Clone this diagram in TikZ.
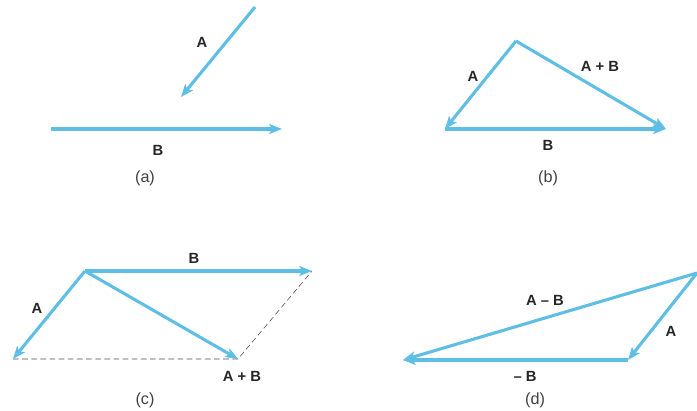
\documentclass[tikz,border=0pt]{standalone}
\usepackage{fontspec}
\setmainfont{Liberation Sans}
\usepackage{xcolor}
\usetikzlibrary{arrows.meta}
\definecolor{vecblue}{RGB}{95,190,228}

\begin{document}
\begin{tikzpicture}[x=0.025cm, y=-0.025cm,
    vec/.style={draw=vecblue, line width=2.2pt, -{Stealth[length=9pt, width=7pt, inset=2pt]}},
    vlabel/.style={font=\bfseries\fontsize{10.5}{12}\selectfont, text=black!85},
    caption/.style={font=\fontsize{11.5}{13}\selectfont, text=black!75},
    guide/.style={dash pattern=on 4pt off 2.5pt, gray!60!black, thin}]
    \useasboundingbox (0,0) rectangle (697,410);
    % (a): A and B on their own
    \begin{scope}[shift={(0,0)}]
        \coordinate (aAtail) at (255,7);
        \coordinate (aAtip) at (181,97);
        \coordinate (aBtail) at (51,129);
        \coordinate (aBtip) at (282,129);
        \draw[vec] (aAtail) -- (aAtip);
        \draw[vec] (aBtail) -- (aBtip);
        \node[vlabel] (aAlab) at (202,42) {A};
        \node[vlabel] (aBlab) at (158,150) {B};
        \node[caption] (acap) at (145,178) {(a)};
    \end{scope}
    % (b): head to tail, A + B closes the triangle
    \begin{scope}[shift={(350,0)}]
        \coordinate (bTop) at (166,41);
        \coordinate (bLeft) at (95,129);
        \coordinate (bRight) at (316,129);
        \draw[vec] (bTop) -- (bLeft);
        \draw[vec] (bLeft) -- (bRight);
        \draw[vec] (bTop) -- (bRight);
        \node[vlabel] (bAlab) at (123,76) {A};
        \node[vlabel] (bSumlab) at (250,66) {A + B};
        \node[vlabel] (bBlab) at (198,145) {B};
        \node[caption] (bcap) at (198,178) {(b)};
    \end{scope}
    % (c): parallelogram rule
    \begin{scope}[shift={(0,220)}]
        \coordinate (cTop) at (85,51);
        \coordinate (cBtip) at (312,51);
        \coordinate (cAtip) at (13,139);
        \coordinate (cSum) at (238,139);
        \draw[guide] (cAtip) -- (cSum) -- (cBtip);
        \draw[vec] (cTop) -- (cAtip);
        \draw[vec] (cTop) -- (cBtip);
        \draw[vec] (cTop) -- (cSum);
        \node[vlabel] (cBlab) at (194,38) {B};
        \node[vlabel] (cAlab) at (37,88) {A};
        \node[vlabel] (cSumlab) at (242,156) {A + B};
        \node[caption] (ccap) at (145,180) {(c)};
    \end{scope}
    % (d): A plus -B gives A - B
    \begin{scope}[shift={(350,220)}]
        \coordinate (dRight) at (347,53);
        \coordinate (dMid) at (278,140);
        \coordinate (dLeft) at (53,140);
        \draw[vec] (dRight) -- (dMid);
        \draw[vec] (dMid) -- (dLeft);
        \draw[vec] (dRight) -- (dLeft);
        \node[vlabel] (dDifflab) at (195,80) {A – B};
        \node[vlabel] (dAlab) at (321,111) {A};
        \node[vlabel] (dBlab) at (175,156) {– B};
        \node[caption] (dcap) at (185,180) {(d)};
    \end{scope}
\end{tikzpicture}
\end{document}
